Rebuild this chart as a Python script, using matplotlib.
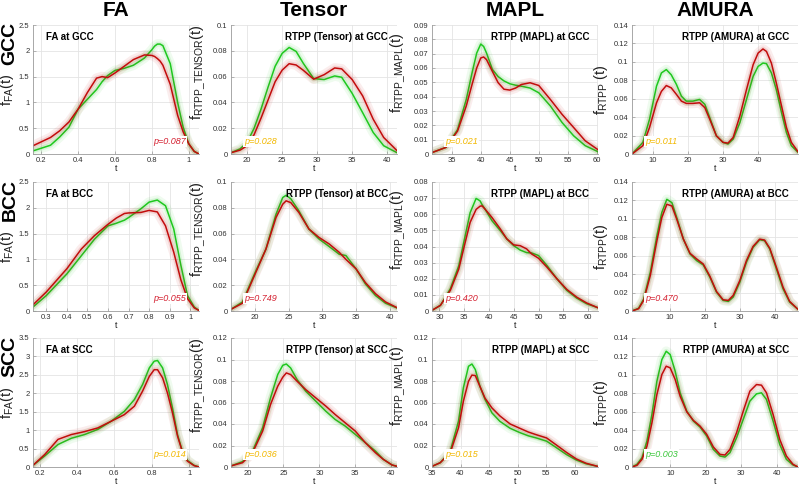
import numpy as np
import matplotlib.pyplot as plt

plt.rcParams['font.family'] = ['Liberation Sans', 'DejaVu Sans']
plt.rcParams['mathtext.default'] = 'regular'

col_titles = ['FA', 'Tensor', 'MAPL', 'AMURA']
row_titles = ['GCC', 'BCC', 'SCC']
p_values = [[0.087, 0.028, 0.021, 0.011],
            [0.055, 0.749, 0.420, 0.470],
            [0.014, 0.036, 0.015, 0.003]]

# ---- GCC ----
fa_gcc_t = [0.155, 0.25, 0.3, 0.35, 0.4, 0.45, 0.5, 0.53, 0.56, 0.6, 0.65, 0.7, 0.76, 0.8, 0.815, 0.83, 0.845, 0.86, 0.9, 0.94, 0.97, 1.0, 1.03, 1.056]
fa_gcc_g = [0.06, 0.17, 0.33, 0.52, 0.87, 1.06, 1.25, 1.4, 1.52, 1.62, 1.66, 1.72, 1.86, 2.02, 2.09, 2.13, 2.13, 2.1, 1.75, 1.0, 0.52, 0.2, 0.05, 0.0]
fa_gcc_r = [0.16, 0.32, 0.45, 0.62, 0.87, 1.19, 1.47, 1.5, 1.48, 1.57, 1.7, 1.83, 1.92, 1.91, 1.89, 1.85, 1.8, 1.72, 1.35, 0.75, 0.43, 0.2, 0.05, 0.0]

ten_gcc_t = [17.7, 19, 20, 21, 22, 23, 24, 25, 26, 27, 28, 29.5, 31, 32.5, 33.5, 35, 36.5, 38, 39.5, 41.4]
ten_gcc_g = [0.001, 0.004, 0.009, 0.02, 0.035, 0.052, 0.068, 0.078, 0.0826, 0.0795, 0.0705, 0.0585, 0.0577, 0.0605, 0.0595, 0.047, 0.032, 0.0167, 0.0064, 0.001]
ten_gcc_r = [0.001, 0.003, 0.0064, 0.015, 0.028, 0.042, 0.056, 0.065, 0.07, 0.069, 0.065, 0.058, 0.0615, 0.0667, 0.066, 0.0577, 0.045, 0.027, 0.0128, 0.0026]

mapl_gcc_t = [31.6, 34, 36, 37.5, 38.5, 39.3, 40, 40.5, 41, 42, 43, 44, 45, 46, 47, 48.5, 50, 52, 54, 56, 58, 60.2]
mapl_gcc_g = [0.001, 0.0046, 0.017, 0.038, 0.0566, 0.0704, 0.0767, 0.075, 0.0704, 0.059, 0.054, 0.051, 0.049, 0.048, 0.0473, 0.046, 0.0427, 0.0335, 0.022, 0.0127, 0.0058, 0.0016]
mapl_gcc_r = [0.001, 0.0046, 0.016, 0.0335, 0.0485, 0.060, 0.067, 0.0677, 0.0658, 0.0577, 0.0497, 0.0452, 0.0446, 0.046, 0.0485, 0.0497, 0.0478, 0.038, 0.0277, 0.0185, 0.0092, 0.003]

amura_gcc_t = [4, 7.1, 9, 11, 12.4, 13.8, 15.2, 16.7, 18.1, 19.5, 21.4, 23.3, 24.8, 26.2, 28.1, 30, 31.4, 32.9, 34.8, 36.7, 38.6, 40, 41.4, 42.4, 43.8, 45.2, 46.7, 48.1, 49.5, 51.4]
amura_gcc_g = [0.0, 0.0126, 0.0377, 0.0736, 0.088, 0.0916, 0.086, 0.0754, 0.0628, 0.0574, 0.0574, 0.0592, 0.0539, 0.0395, 0.0197, 0.0126, 0.0108, 0.0162, 0.034, 0.0592, 0.0844, 0.095, 0.0987, 0.098, 0.088, 0.070, 0.0449, 0.0233, 0.009, 0.0018]
amura_gcc_r = [0.0, 0.009, 0.0287, 0.0556, 0.068, 0.0743, 0.0718, 0.0646, 0.0574, 0.0549, 0.0549, 0.0556, 0.0503, 0.0377, 0.0197, 0.0126, 0.0118, 0.018, 0.0413, 0.070, 0.097, 0.1095, 0.114, 0.1113, 0.0987, 0.0772, 0.052, 0.0287, 0.0126, 0.0025]

# ---- BCC ----
fa_bcc_t = [0.235, 0.3, 0.4, 0.47, 0.534, 0.6, 0.64, 0.68, 0.7, 0.76, 0.8, 0.84, 0.88, 0.92, 0.955, 0.987, 1.02, 1.043]
fa_bcc_g = [0.077, 0.30, 0.72, 1.07, 1.39, 1.65, 1.70, 1.76, 1.81, 1.98, 2.11, 2.15, 2.04, 1.59, 0.88, 0.3, 0.077, 0.01]
fa_bcc_r = [0.12, 0.37, 0.82, 1.2, 1.46, 1.68, 1.80, 1.89, 1.9, 1.91, 1.95, 1.92, 1.65, 1.14, 0.6, 0.24, 0.06, 0.01]

ten_bcc_t = [16.4, 18.1, 20, 21.6, 23.1, 24.1, 24.6, 25.3, 26.5, 28, 29.5, 31, 32.5, 33.5, 35, 36.4, 37.9, 39.4, 41.1]
ten_bcc_g = [0.0013, 0.007, 0.030, 0.048, 0.075, 0.088, 0.0897, 0.087, 0.0776, 0.0635, 0.0558, 0.050, 0.044, 0.043, 0.0327, 0.021, 0.012, 0.006, 0.0023]
ten_bcc_r = [0.0013, 0.006, 0.0288, 0.048, 0.0725, 0.0828, 0.0854, 0.084, 0.0764, 0.0635, 0.057, 0.052, 0.0455, 0.040, 0.0327, 0.022, 0.0134, 0.007, 0.0026]

mapl_bcc_t = [28.5, 30.2, 32.2, 33.9, 35.2, 36.2, 37.4, 38.2, 38.6, 39.2, 40.6, 42.3, 43.6, 45.0, 46.3, 47.6, 48.6, 50.0, 51.7, 53.7, 55.7, 57.7, 59.7, 62.0]
mapl_bcc_g = [0.0004, 0.0035, 0.0138, 0.028, 0.0467, 0.061, 0.0698, 0.0683, 0.066, 0.0632, 0.056, 0.0498, 0.0447, 0.0405, 0.0378, 0.0362, 0.036, 0.0344, 0.0282, 0.020, 0.0128, 0.008, 0.0045, 0.002]
mapl_bcc_r = [0.0004, 0.0035, 0.0128, 0.026, 0.0426, 0.055, 0.063, 0.065, 0.0652, 0.0632, 0.058, 0.0508, 0.0447, 0.041, 0.0405, 0.0385, 0.0354, 0.0327, 0.0272, 0.020, 0.0134, 0.0086, 0.005, 0.002]

amura_bcc_t = [-0.95, 0.95, 2.4, 4.3, 6.2, 7.6, 9.05, 10.5, 11.9, 13.8, 15.7, 17.6, 19.5, 21.4, 23.3, 25.2, 26.7, 28.1, 30, 31.9, 33.8, 35.7, 37.1, 38.6, 40.5, 42.4, 44.3, 46.7]
amura_bcc_g = [0.0, 0.003, 0.013, 0.042, 0.0817, 0.1068, 0.1212, 0.1176, 0.1014, 0.078, 0.0619, 0.0547, 0.050, 0.0367, 0.0205, 0.0115, 0.0104, 0.0151, 0.0313, 0.0529, 0.069, 0.0773, 0.0763, 0.0673, 0.0457, 0.0241, 0.0097, 0.0018]
amura_bcc_r = [0.0, 0.0025, 0.0115, 0.0385, 0.0763, 0.1014, 0.1158, 0.114, 0.0996, 0.078, 0.0626, 0.0565, 0.051, 0.0378, 0.0212, 0.0122, 0.0115, 0.0169, 0.0331, 0.0547, 0.0701, 0.078, 0.077, 0.068, 0.0475, 0.0259, 0.0104, 0.0018]

# ---- SCC ----
fa_scc_t = [0.164, 0.227, 0.298, 0.369, 0.44, 0.511, 0.582, 0.653, 0.707, 0.751, 0.787, 0.813, 0.831, 0.858, 0.884, 0.911, 0.938, 0.964, 0.991, 1.027, 1.053]
fa_scc_g = [0.045, 0.30, 0.61, 0.78, 0.88, 1.02, 1.24, 1.51, 1.83, 2.24, 2.69, 2.87, 2.89, 2.69, 2.24, 1.6, 0.88, 0.43, 0.18, 0.045, 0.0]
fa_scc_r = [0.045, 0.34, 0.75, 0.88, 0.96, 1.06, 1.24, 1.42, 1.65, 2.06, 2.46, 2.64, 2.64, 2.42, 2.01, 1.47, 0.84, 0.41, 0.16, 0.036, 0.0]

ten_scc_t = [17.7, 19.3, 20.7, 22.1, 23.2, 24.2, 24.9, 25.4, 26.0, 26.9, 28.1, 29.5, 30.9, 32.2, 33.6, 35.0, 36.4, 37.8, 38.9, 40.1, 40.8]
ten_scc_g = [0.001, 0.005, 0.0148, 0.0365, 0.0643, 0.086, 0.0946, 0.0958, 0.0921, 0.0813, 0.0705, 0.0612, 0.0519, 0.0442, 0.038, 0.0303, 0.0226, 0.0148, 0.0071, 0.0019, 0.0006]
ten_scc_r = [0.001, 0.004, 0.0133, 0.0334, 0.0581, 0.0751, 0.0835, 0.0875, 0.086, 0.0798, 0.072, 0.0643, 0.0566, 0.0488, 0.0411, 0.0334, 0.0226, 0.0133, 0.0071, 0.0019, 0.0006]

mapl_scc_t = [35, 36.45, 38.2, 39.65, 40.5, 41.4, 42.0, 42.6, 43.4, 44.3, 45.5, 46.9, 48.7, 50.4, 51.9, 53.3, 55.1, 56.8, 58.6, 60.3, 62.0, 64.1]
mapl_scc_g = [0.0006, 0.004, 0.0148, 0.0427, 0.0736, 0.0937, 0.0958, 0.0906, 0.0751, 0.0628, 0.0504, 0.0425, 0.036, 0.032, 0.029, 0.027, 0.024, 0.018, 0.0115, 0.0065, 0.003, 0.0005]
mapl_scc_r = [0.0006, 0.004, 0.0133, 0.0365, 0.0612, 0.0798, 0.0855, 0.085, 0.075, 0.064, 0.055, 0.0475, 0.040, 0.036, 0.0325, 0.030, 0.027, 0.0205, 0.0135, 0.0075, 0.0035, 0.0005]

amura_scc_t = [-0.75, 0.65, 2.06, 3.46, 4.86, 6.26, 7.66, 8.88, 10, 11.4, 12.8, 14.67, 16.54, 18.41, 20.28, 22.15, 24.02, 25.42, 26.82, 28.69, 30.56, 32.43, 34.3, 35.7, 37.1, 38.97, 40.84, 42.71, 44.58, 45.98]
amura_scc_g = [0.0, 0.0029, 0.0101, 0.0282, 0.057, 0.0931, 0.1166, 0.1256, 0.122, 0.104, 0.0805, 0.0606, 0.0498, 0.0433, 0.0336, 0.0191, 0.0119, 0.0108, 0.0155, 0.0318, 0.0516, 0.0715, 0.0794, 0.0805, 0.0733, 0.0498, 0.0245, 0.0083, 0.0022, 0.0]
amura_scc_r = [0.0, 0.0018, 0.0083, 0.0227, 0.048, 0.0787, 0.1004, 0.1094, 0.1076, 0.095, 0.0769, 0.0599, 0.0505, 0.0444, 0.0354, 0.0217, 0.0137, 0.013, 0.0191, 0.0372, 0.0606, 0.0823, 0.0895, 0.0888, 0.0805, 0.057, 0.03, 0.0119, 0.0029, 0.0]

curves = [
    [(fa_gcc_t, fa_gcc_g, fa_gcc_r), (ten_gcc_t, ten_gcc_g, ten_gcc_r),
     (mapl_gcc_t, mapl_gcc_g, mapl_gcc_r), (amura_gcc_t, amura_gcc_g, amura_gcc_r)],
    [(fa_bcc_t, fa_bcc_g, fa_bcc_r), (ten_bcc_t, ten_bcc_g, ten_bcc_r),
     (mapl_bcc_t, mapl_bcc_g, mapl_bcc_r), (amura_bcc_t, amura_bcc_g, amura_bcc_r)],
    [(fa_scc_t, fa_scc_g, fa_scc_r), (ten_scc_t, ten_scc_g, ten_scc_r),
     (mapl_scc_t, mapl_scc_g, mapl_scc_r), (amura_scc_t, amura_scc_g, amura_scc_r)],
]

# axis ticks per panel
x_ticks = [
    [np.arange(0.2, 1.01, 0.2), np.arange(20, 41, 5), np.arange(35, 61, 5), np.arange(10, 41, 10)],
    [np.arange(0.3, 1.01, 0.1), np.arange(20, 41, 5), np.arange(30, 61, 5), np.arange(10, 41, 10)],
    [np.arange(0.2, 1.01, 0.2), np.arange(20, 41, 5), np.arange(35, 61, 5), np.arange(10, 41, 10)],
]
y_max = [[2.5, 0.1, 0.09, 0.14], [2.5, 0.1, 0.08, 0.14], [3.5, 0.12, 0.12, 0.14]]
y_step = [[0.5, 0.02, 0.01, 0.02], [0.5, 0.02, 0.01, 0.02], [0.5, 0.02, 0.02, 0.02]]

ylabels = [r'f$_{FA}$(t)', r'f$_{RTPP\_TENSOR}$(t)', r'f$_{RTPP\_MAPL}$(t)', r'f$_{RTPP}$(t)']
panel_names = ['FA', 'RTPP (Tensor)', 'RTPP (MAPL)', 'RTPP (AMURA)']

GREEN = '#1ec81e'
RED = '#c20c0c'


def p_color(p):
    if p > 0.05:
        return '#d42030'
    if p > 0.01:
        return '#f2b800'
    return '#3cc83c'


fig = plt.figure(figsize=(8, 4.88), dpi=100)
W, H = 800.0, 488.0
lefts = [33, 231, 432, 632]
tops = [25, 182, 338]
aw, ah = 166, 129
ylab_x = [-0.1, -0.14, -0.145, -0.13]
ylab_y = [0.5, 0.63, 0.63, 0.5]

for i in range(3):
    for j in range(4):
        ax = fig.add_axes([lefts[j] / W, 1 - (tops[i] + ah) / H, aw / W, ah / H])
        t, yg, yr = curves[i][j]
        for y, c in ((yg, GREEN), (yr, RED)):
            ax.plot(t, y, color=c, lw=7, alpha=0.07, solid_capstyle='round', solid_joinstyle='round')
            ax.plot(t, y, color=c, lw=3.5, alpha=0.12, solid_capstyle='round', solid_joinstyle='round')
            ax.plot(t, y, color=c, lw=1.1, solid_joinstyle='round')
        ax.set_xlim(t[0], t[-1])
        ax.set_ylim(0, y_max[i][j])
        ax.set_xticks(x_ticks[i][j])
        ax.set_yticks(np.arange(0, y_max[i][j] + 1e-9, y_step[i][j]))
        ax.xaxis.set_major_formatter(plt.FormatStrFormatter('%g'))
        ax.yaxis.set_major_formatter(plt.FuncFormatter(lambda v, pos: f'{round(v, 4):g}'))
        ax.grid(True, color='#e4e4e4', lw=0.6)
        ax.set_axisbelow(True)
        for s in ('top', 'right'):
            ax.spines[s].set_visible(False)
        for s in ('left', 'bottom'):
            ax.spines[s].set_color('#9a9a9a')
            ax.spines[s].set_linewidth(0.6)
        ax.tick_params(labelsize=5.5, colors='#9a9a9a', labelcolor='#303030',
                       length=2, width=0.5, direction='in')
        ax.tick_params(axis='x', pad=2.2)
        ax.tick_params(axis='y', pad=2.5)
        ax.set_xlabel('t', fontsize=6.5, labelpad=0, color='#202020')
        lab = ylabels[j]
        if i == 0 and j == 3:
            lab = r'f$_{RTPP}$ (t)'
        ax.set_ylabel(lab, fontsize=10.5, color='#202020')
        ax.yaxis.set_label_coords(ylab_x[j], ylab_y[j])

        name = f'{panel_names[j]} at {row_titles[i]}'
        if j == 0:
            ax.text(0.08, 0.91, name, transform=ax.transAxes, fontsize=7,
                    fontweight='bold', ha='left', va='center')
        else:
            ax.text(0.946, 0.91, name, transform=ax.transAxes, fontsize=7,
                    fontweight='bold', ha='right', va='center')

        p = p_values[i][j]
        px = 0.726 if j == 0 else 0.08
        ax.text(px, 0.097, f'p={p:.3f}', transform=ax.transAxes, fontsize=6.5,
                style='italic', color=p_color(p), ha='left', va='center', zorder=5,
                bbox=dict(facecolor='white', edgecolor='none', pad=0.6))

for j, title in enumerate(col_titles):
    fig.text((lefts[j] + aw / 2) / W, 1 - 10 / H, title, fontsize=15,
             fontweight='bold', ha='center', va='center',
             family=['Liberation Sans Narrow', 'Liberation Sans'])

for i, r in enumerate(row_titles):
    fig.text(10 / W, 1 - (tops[i] + 18) / H, r, fontsize=14, fontweight='bold',
             rotation=90, ha='center', va='center',
             family=['Liberation Sans Narrow', 'Liberation Sans'])

fig.savefig('out.png', dpi=100)
